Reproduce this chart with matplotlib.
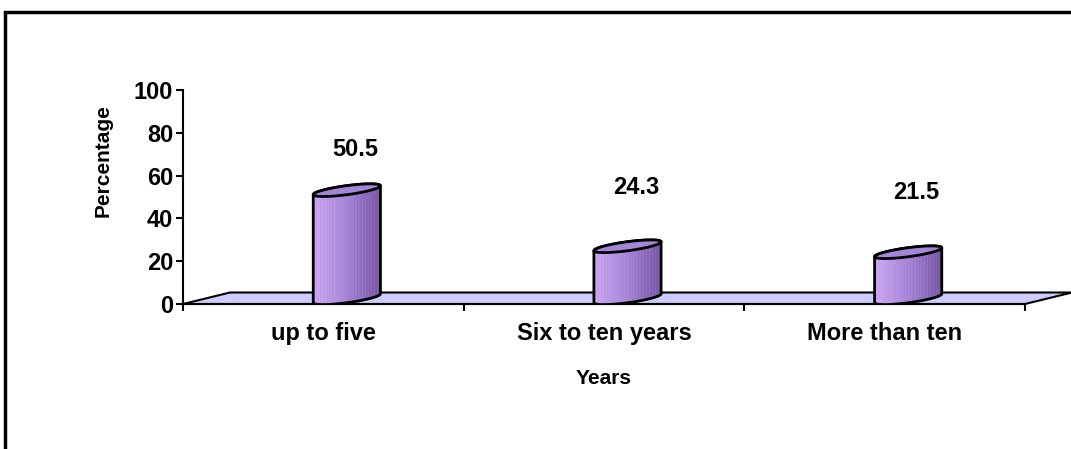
import numpy as np
import matplotlib
matplotlib.use("Agg")
import matplotlib.pyplot as plt
from matplotlib.patches import Polygon, Rectangle

plt.rcParams['font.family'] = ['Liberation Sans', 'DejaVu Sans']
plt.rcParams['font.weight'] = 'bold'

# data
categories = ['up to five', 'Six to ten years', 'More than ten']
values = [50.5, 24.3, 21.5]
yticks = [0, 20, 40, 60, 80, 100]

# label heights above bar top (as drawn in the original)
label_rise = [19, 27.5, 28]

W, H = 1071, 449
fig = plt.figure(figsize=(W / 100, H / 100), dpi=100)

# outer frame (only top and left edges visible)
fig.add_artist(Rectangle((5 / W, -0.1), 1.2, (H - 12) / H + 0.1, transform=fig.transFigure,
                         fill=False, lw=2.5, ec='black'))

ax = fig.add_axes([183 / W, (H - 304) / H, 842 / W, 214 / H])
ax.set_xlim(0, 3)
ax.set_ylim(0, 100)

# depth offsets in data units
px_x = 3 / 842
px_y = 100 / 214
dx = 47 * px_x
dy = 11.5 * px_y

# floor
floor = Polygon([(0, 0), (3, 0), (3 + dx, dy), (dx, dy)], closed=True,
                fc='#CCCCFF', ec='black', lw=1.5, clip_on=False, zorder=1)
ax.add_patch(floor)

rx = 24 * px_x
sx = dx / 2
sy = dy / 2 * 1.1
tR = np.arctan2(sx / px_x, rx / px_x)

def ell(cx, cy, t):
    return np.column_stack([cx + rx * np.cos(t) + sx * np.sin(t), cy + sy * np.sin(t)])

cmap = matplotlib.colors.LinearSegmentedColormap.from_list(
    'cyl', ['#CBA8F2', '#A684D8', '#7A58A6'])
n = 60
stripes = np.linspace(0, 1, n) + 0.08 * np.sin(np.arange(n) * 2.3)
for i, v in enumerate(values):
    cx = i + 0.5 + dx / 2
    cy0 = dy / 2
    cy1 = v + dy / 2
    tb = np.linspace(tR + np.pi, tR + 2 * np.pi, 80)
    tt = np.linspace(tR, tR + np.pi, 80)
    body = np.vstack([ell(cx, cy0, tb), ell(cx, cy1, tt)])
    poly = Polygon(body, closed=True, fc='none', ec='black', lw=2, zorder=4)
    ax.add_patch(poly)
    half = np.sqrt(rx ** 2 + sx ** 2)
    im = ax.imshow(stripes[np.newaxis, :], cmap=cmap, aspect='auto',
                   extent=[cx - half, cx + half, 0, cy1 + sy], zorder=3, vmin=0, vmax=1)
    im.set_clip_path(Polygon(body, closed=True, transform=ax.transData))
    top = Polygon(ell(cx, cy1, np.linspace(0, 2 * np.pi, 120)), closed=True,
                  fc='#A485D8', ec='black', lw=2, zorder=5)
    ax.add_patch(top)
    ax.text(i + 0.5 + 32 * px_x, v + label_rise[i] + dy / 2, f'{v:.1f}',
            ha='center', va='center', fontsize=17, fontweight='bold', zorder=6)

ax.set_xlim(0, 3)
ax.set_ylim(0, 100)

for s in ['top', 'right']:
    ax.spines[s].set_visible(False)
ax.spines['left'].set_linewidth(1.5)
ax.spines['bottom'].set_linewidth(1.5)
ax.spines['bottom'].set_zorder(2)
ax.set_yticks(yticks)
ax.set_yticklabels([str(t) for t in yticks], fontsize=17, fontweight='bold')
ax.set_xticks([0, 1, 2, 3])
ax.set_xticklabels([])
ax.set_xticks([0.5, 1.5, 2.5], minor=True)
ax.set_xticklabels(categories, minor=True, fontsize=17, fontweight='bold')
ax.tick_params(axis='x', which='minor', length=0, pad=13)
ax.tick_params(axis='both', which='major', direction='out', length=5, width=1.5, pad=2)
ax.set_xlabel('Years', fontsize=15, fontweight='bold', labelpad=17)
ax.text(-80 / 842, 143 / 214, 'Percentage', transform=ax.transAxes, rotation=90,
        ha='center', va='center', fontsize=15, fontweight='bold')
ax.patch.set_alpha(0)

fig.savefig('out.png', dpi=100)
